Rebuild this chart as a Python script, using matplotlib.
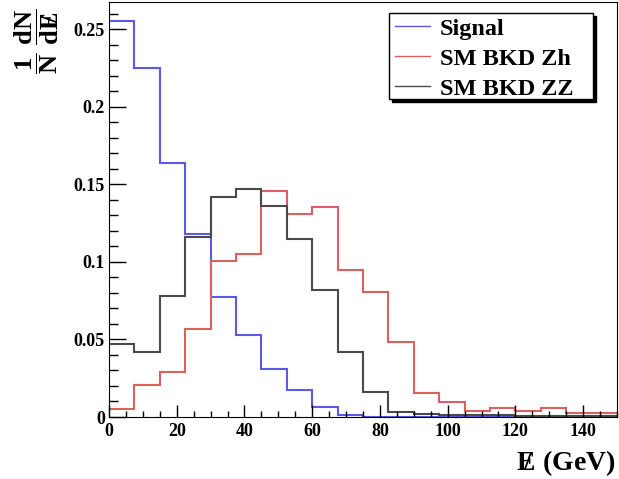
import numpy as np
import matplotlib
matplotlib.use('Agg')
import matplotlib.pyplot as plt
from matplotlib.patches import Rectangle
from matplotlib.ticker import MultipleLocator, FuncFormatter

plt.rcParams['font.family'] = 'Liberation Serif'
plt.rcParams['font.weight'] = 'bold'
plt.rcParams['mathtext.fontset'] = 'custom'
plt.rcParams['mathtext.rm'] = 'Liberation Serif:bold'
plt.rcParams['mathtext.bf'] = 'Liberation Serif:bold'
plt.rcParams['mathtext.it'] = 'Liberation Serif:bold'

# missing energy, 20 bins of 7.5 GeV
edges = np.arange(0, 150.01, 7.5)

signal = [0.255, 0.225, 0.164, 0.118, 0.0775, 0.053, 0.031, 0.0174, 0.0064, 0.001,
          0.0003, 0.0002, 0.0001, 0.0, 0.0, 0.0, 0.0, 0.0, 0.0, 0.0]
bkd_zh = [0.005, 0.0208, 0.029, 0.0565, 0.1007, 0.105, 0.1456, 0.1306, 0.1351, 0.0949,
          0.0807, 0.0485, 0.0157, 0.0095, 0.0039, 0.0058, 0.0039, 0.0056, 0.0024, 0.0024]
bkd_zz = [0.0468, 0.0419, 0.0782, 0.1162, 0.1415, 0.1469, 0.1362, 0.1147, 0.0816, 0.042,
          0.0159, 0.0034, 0.0020, 0.0015, 0.0010, 0.0010, 0.0008, 0.0008, 0.0006, 0.0006]

labels = ['Signal', 'SM BKD Zh', 'SM BKD ZZ']
colors = ['#5a5ae6', '#dc6060', '#4a4a4a']

# slashed E (missing energy) built from E with a slash over it
met = r'E\hspace{-0.48}/\hspace{0.2}'

fig = plt.figure(figsize=(6.19, 4.79), dpi=100)
ax = fig.add_axes([109/619, 62/479, 508/619, 415/479])

for vals, lab, col in zip([signal, bkd_zh, bkd_zz], labels, colors):
    ax.stairs(vals, edges, baseline=None, color=col, lw=1.5, label=lab)

ax.set_xlim(0, 150)
ax.set_ylim(0, 0.2675)

ax.xaxis.set_major_locator(MultipleLocator(20))
ax.xaxis.set_minor_locator(MultipleLocator(5))
ax.yaxis.set_major_locator(MultipleLocator(0.05))
ax.yaxis.set_minor_locator(MultipleLocator(0.01))
ax.yaxis.set_major_formatter(FuncFormatter(lambda v, p: '%g' % round(v, 3)))

ax.tick_params(which='both', direction='in', top=False, right=False, labelsize=13)
ax.tick_params(axis='y', which='major', length=12, width=1, pad=3)
ax.tick_params(axis='y', which='minor', length=6.5, width=1)
ax.tick_params(axis='x', which='major', length=8.5, width=1, pad=4)
ax.tick_params(axis='x', which='minor', length=4.5, width=1)
for lbl in ax.get_xticklabels() + ax.get_yticklabels():
    lbl.set_fontweight('bold')

# legend box with a drop shadow, ROOT style
bx0, bx1, by0, by1 = 0.551, 0.953, 0.766, 0.9735
sh = 3 / 508
ax.add_patch(Rectangle((bx0 + sh, by0 - sh * 508 / 415), bx1 - bx0, by1 - by0,
                       transform=ax.transAxes, facecolor='black', edgecolor='black',
                       zorder=4, clip_on=False))
ax.add_patch(Rectangle((bx0, by0), bx1 - bx0, by1 - by0, transform=ax.transAxes,
                       facecolor='white', edgecolor='black', lw=1, zorder=4.1,
                       clip_on=False))
leg = ax.legend(loc='upper left', bbox_to_anchor=(0.563, 0.962), fontsize=17.5,
                frameon=False, handlelength=1.45, handletextpad=0.4, borderpad=0,
                labelspacing=0.33, borderaxespad=0)
for line in leg.get_lines():
    line.set_linewidth(1)

fig.text(616/619, 0.033, r'$' + met + r'$ (GeV)', ha='right', va='center', fontsize=20,
         fontweight='bold')
fig.text(37/619, 1 - 74/479, r'$\dfrac{1}{N}\ \dfrac{dN}{d' + met + r'}$', rotation=90,
         ha='center', va='bottom', fontsize=19)

fig.savefig('out.png', dpi=100)
